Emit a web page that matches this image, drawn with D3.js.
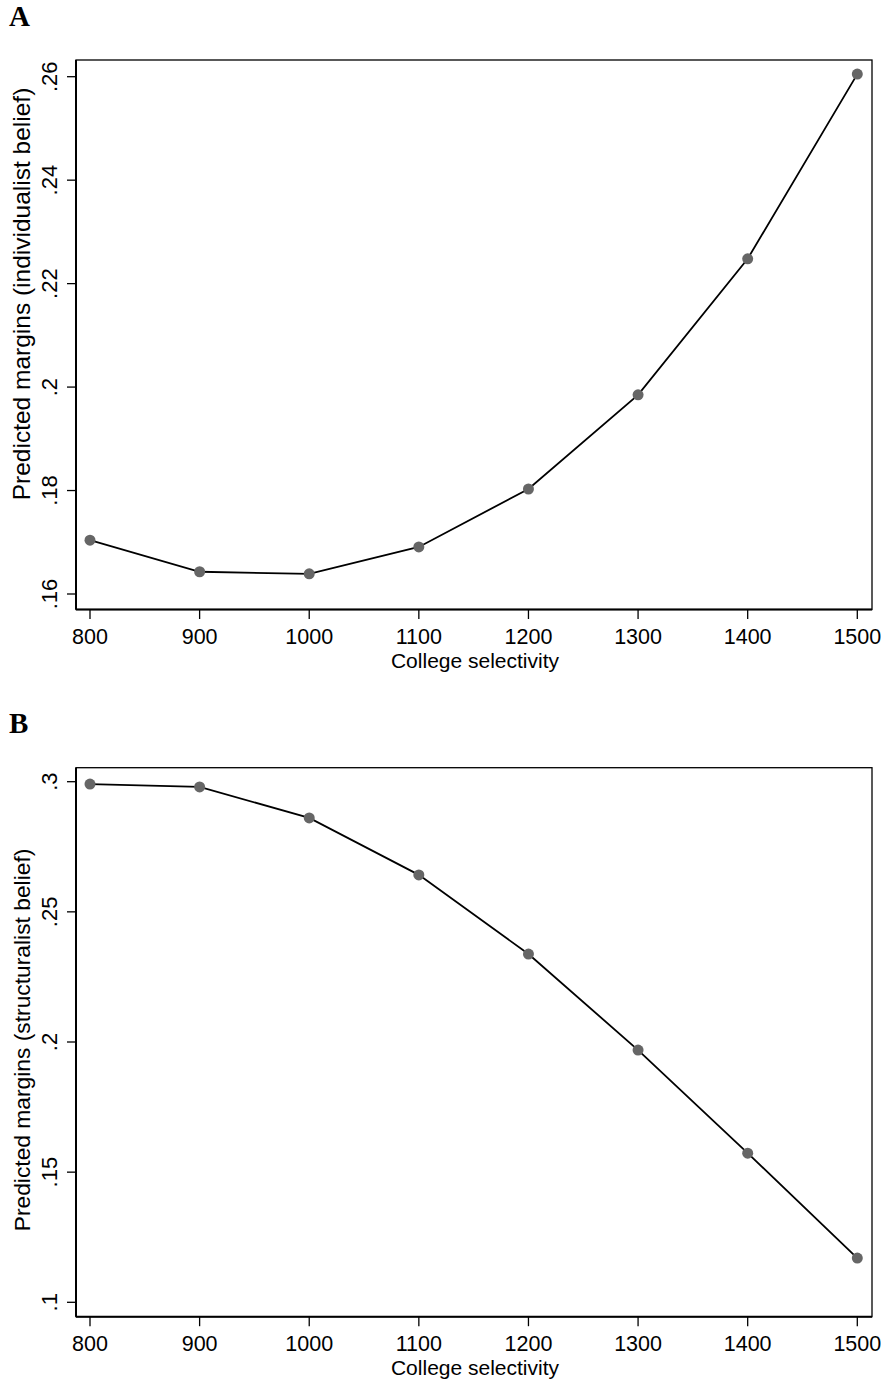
<!DOCTYPE html>
<html>
<head>
<meta charset="utf-8">
<style>
  body { margin: 0; background: #fff; }
  svg text { font-family: "Liberation Sans", Arial, sans-serif; fill: #000; }
</style>
</head>
<body>
<svg id="chart" width="886" height="1381"></svg>
<script src="https://cdn.jsdelivr.net/npm/d3@7"></script>
<script>
  // data
  let selectivity = [800, 900, 1000, 1100, 1200, 1300, 1400, 1500]
  let individualist = [0.1704, 0.1643, 0.1639, 0.1691, 0.1803, 0.1985, 0.2248, 0.2605]
  let structuralist = [0.2991, 0.2980, 0.2861, 0.2642, 0.2338, 0.1969, 0.1573, 0.1170]
  let ticksA = [0.16, 0.18, 0.20, 0.22, 0.24, 0.26]
  let ticksB = [0.10, 0.15, 0.20, 0.25, 0.30]

  let svg = d3.select("#chart")

  function fmt(v) {
    // stata style: drop leading zero, ".2" not ".20"
    let s = d3.format(".2f")(v).replace(/0+$/, "").replace(/\.$/, "")
    return s.replace(/^0/, "")
  }

  function panel(opts) {
    let g = svg.append("g")
    let left = 76, right = 872
    let x = d3.scaleLinear().domain([800, 1500]).range([90, 857.3])
    let y = d3.scaleLinear().domain(opts.yDomain).range(opts.yRange)

    g.append("text")
      .attr("x", 9).attr("y", opts.labelY)
      .style("font-family", "'Liberation Serif', 'Times New Roman', serif")
      .style("font-weight", "bold")
      .style("font-size", "29px")
      .text(opts.label)

    g.append("rect")
      .attr("x", left).attr("y", opts.top)
      .attr("width", right - left).attr("height", opts.bottom - opts.top)
      .attr("fill", "none").attr("stroke", "#000").attr("stroke-width", 1.3)
    // heavier left and bottom axis lines
    g.append("line").attr("x1", left).attr("x2", left)
      .attr("y1", opts.top).attr("y2", opts.bottom)
      .attr("stroke", "#000").attr("stroke-width", 2)
    g.append("line").attr("x1", left).attr("x2", right)
      .attr("y1", opts.bottom).attr("y2", opts.bottom)
      .attr("stroke", "#000").attr("stroke-width", 2)

    // y ticks
    let yt = g.append("g")
    yt.selectAll("line").data(opts.ticks).join("line")
      .attr("x1", left - 9).attr("x2", left)
      .attr("y1", d => y(d)).attr("y2", d => y(d))
      .attr("stroke", "#000").attr("stroke-width", 1.3)
    yt.selectAll("text").data(opts.ticks).join("text")
      .attr("transform", d => `translate(57,${y(d)}) rotate(-90)`)
      .attr("text-anchor", "middle")
      .style("font-size", "22px")
      .text(fmt)

    // x ticks
    let xt = g.append("g")
    xt.selectAll("line").data(selectivity).join("line")
      .attr("x1", d => x(d)).attr("x2", d => x(d))
      .attr("y1", opts.bottom).attr("y2", opts.bottom + 9.5)
      .attr("stroke", "#000").attr("stroke-width", 1.3)
    xt.selectAll("text").data(selectivity).join("text")
      .attr("x", d => x(d)).attr("y", opts.bottom + 34)
      .attr("text-anchor", "middle")
      .style("font-size", "21.5px")
      .text(d => d)

    g.append("text")
      .attr("x", (left + right) / 2 + 1).attr("y", opts.bottom + 58.5)
      .attr("text-anchor", "middle")
      .style("font-size", "21px")
      .text("College selectivity")

    g.append("text")
      .attr("transform", `translate(30,${opts.titleY}) rotate(-90)`)
      .attr("text-anchor", "middle")
      .style("font-size", opts.titleSize + "px")
      .text(opts.yTitle)

    let pts = selectivity.map((s, i) => [s, opts.values[i]])
    let line = d3.line().x(d => x(d[0])).y(d => y(d[1]))
    g.append("path").datum(pts)
      .attr("d", line)
      .attr("fill", "none").attr("stroke", "#000").attr("stroke-width", 1.8)
    g.selectAll("circle").data(pts).join("circle")
      .attr("cx", d => x(d[0])).attr("cy", d => y(d[1]))
      .attr("r", 5.5).attr("fill", "#666")
  }

  panel({
    label: "A", labelY: 26, top: 60, bottom: 609.5,
    yDomain: [0.16, 0.26], yRange: [594, 76.7],
    ticks: ticksA, values: individualist,
    yTitle: "Predicted margins (individualist belief)",
    titleY: 294, titleSize: 24.5
  })
  panel({
    label: "B", labelY: 733, top: 767.7, bottom: 1316.7,
    yDomain: [0.10, 0.30], yRange: [1302.3, 781.7],
    ticks: ticksB, values: structuralist,
    yTitle: "Predicted margins (structuralist belief)",
    titleY: 1040, titleSize: 22.8
  })
</script>
</body>
</html>
